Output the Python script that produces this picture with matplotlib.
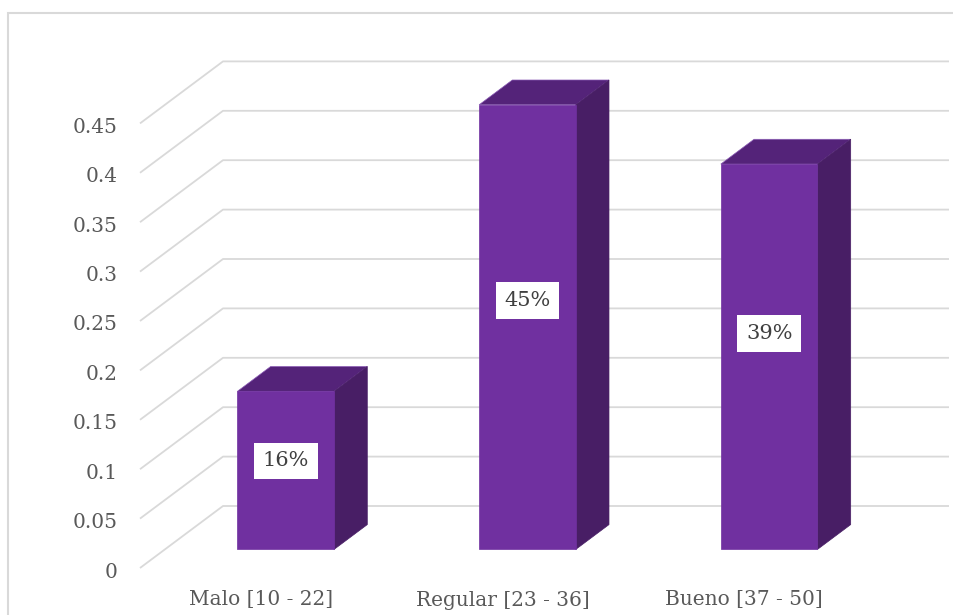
import matplotlib
matplotlib.use("Agg")
import matplotlib.pyplot as plt
from matplotlib.patches import Polygon, Rectangle

# Data
categories = ["Malo [10 - 22]", "Regular [23 - 36]", "Bueno [37 - 50]"]
values = [0.16, 0.45, 0.39]
value_labels = ["16%", "45%", "39%"]
ticks = [0, 0.05, 0.1, 0.15, 0.2, 0.25, 0.3, 0.35, 0.4, 0.45]
tick_labels = ["0", "0.05", "0.1", "0.15", "0.2", "0.25", "0.3", "0.35", "0.4", "0.45"]

W, H = 954, 615
fig = plt.figure(figsize=(W / 100, H / 100), dpi=100)
fig.patch.set_facecolor("white")

# Outer chart border (left and top visible)
fig.add_artist(plt.Line2D([8.5 / W, 8.5 / W, 1.0], [0, 1 - 13 / H, 1 - 13 / H],
                          color="#d9d9d9", lw=1.5, solid_capstyle="butt",
                          solid_joinstyle="miter", transform=fig.transFigure))

# Plot area in pixels
px_left, px_right = 140, 949
px_floor, px_top = 568, 62
cat_px = 241.7          # pixels per category on the front plane
val_px = 988.0          # pixels per value unit
depth_dx_px, depth_dy_px = 83.0, 62.0

ax = fig.add_axes([px_left / W, (H - px_floor) / H,
                   (px_right - px_left) / W, (px_floor - px_top) / H])
ax.set_xlim(-0.5, -0.5 + (px_right - px_left) / cat_px)
ax.set_ylim(0, (px_floor - px_top) / val_px)
ax.axis("off")

dxf = depth_dx_px / cat_px
dyf = depth_dy_px / val_px
x0 = -0.5

# Gridlines: floor-side diagonal + back wall horizontal
grid_c = "#d9d9d9"
for t in ticks:
    ax.plot([x0, x0 + dxf, ax.get_xlim()[1]], [t, t + dyf, t + dyf],
            color=grid_c, lw=1.3, solid_capstyle="butt", clip_on=False, zorder=1)

text_font = ["DejaVu Serif"]

# Tick labels
for t, lab in zip(ticks, tick_labels):
    ax.text(x0 - 22 / cat_px, t - 4 / val_px, lab, ha="right", va="center",
            fontsize=14.5, color="#595959", family=text_font, clip_on=False)

# Category labels
for i, c in enumerate(categories):
    ax.text(i, -32 / val_px, c, ha="center", va="center",
            fontsize=14.5, color="#595959", family=text_font, clip_on=False)

# 3D bars (oblique projection)
front_c, top_c, side_c = "#7030a0", "#542379", "#481e65"
bw = 0.4
d_front, d_back = 0.3, 0.7
for i, v in enumerate(values):
    fx = i - bw / 2 + d_front * dxf
    fy = d_front * dyf
    ddx = (d_back - d_front) * dxf
    ddy = (d_back - d_front) * dyf
    ax.add_patch(Polygon([(fx, fy + v), (fx + bw, fy + v), (fx + bw + ddx, fy + v + ddy),
                          (fx + ddx, fy + v + ddy)], closed=True, fc=top_c, ec="#8a5bb5",
                         lw=0.5, zorder=3))
    ax.add_patch(Polygon([(fx + bw, fy), (fx + bw + ddx, fy + ddy), (fx + bw + ddx, fy + v + ddy),
                          (fx + bw, fy + v)], closed=True, fc=side_c, ec=side_c, lw=0.5, zorder=3))
    ax.add_patch(Rectangle((fx, fy), bw, v, fc=front_c, ec=front_c, lw=0.5, zorder=4))
    # value label in a white box
    cx = fx + bw / 2
    cy = fy + 0.56 * v
    ax.text(cx, cy, value_labels[i], ha="center", va="center", fontsize=15,
            color="#404040", family=text_font, zorder=6,
            bbox=dict(boxstyle="square,pad=0.42", fc="white", ec="none"))

fig.savefig("out.png", dpi=100, facecolor="white")
